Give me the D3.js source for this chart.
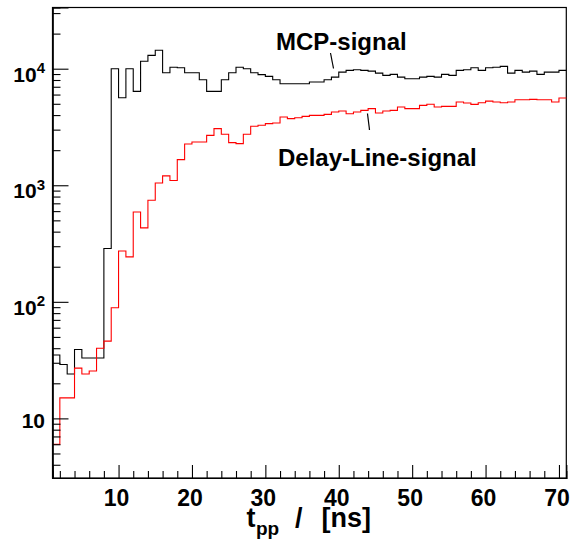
<!DOCTYPE html>
<html>
<head>
<meta charset="utf-8">
<script src="https://cdn.jsdelivr.net/npm/d3@7"></script>
<style>
  body { margin: 0; background: #fff; }
  svg { display: block; }
  text { font-family: "Liberation Sans", Arial, Helvetica, sans-serif; font-weight: bold; fill: #000; }
</style>
</head>
<body>
<svg id="chart" width="574" height="540"></svg>
<script>
// Histogram bins: width 1 ns, from 1 to 71 ns
const binLowEdges = d3.range(1, 71);
const binUpperEdge = 71;

// Counts per bin, MCP signal
const mcpCounts = [
  35, 29, 24, 39, 33, 33, 33, 287, 10000, 5640,
  10000, 6390, 11600, 13000, 14400, 9240, 10300, 10200, 9240, 9240,
  8040, 6390, 6390, 8040, 9240, 10300, 10000, 9240, 8890, 8590,
  8040, 7430, 7430, 7430, 7430, 7680, 7680, 8040, 8470, 9350,
  9670, 9800, 9670, 9540, 9170, 8760, 8940, 8470, 8210, 8210,
  8470, 8590, 8470, 8940, 8760, 9670, 9800, 10200, 9670, 10200,
  10300, 10460, 9170, 9670, 9350, 9540, 8940, 9350, 9350, 9670
];

// Counts per bin, delay-line signal
const delayLineCounts = [
  6, 15, 15, 27, 24, 25.5, 40, 46, 89, 273,
  243, 590, 431, 743, 1047, 1203, 1100, 1660, 2260, 2350,
  2350, 2680, 3060, 2740, 2320, 2275, 2740, 3210, 3270, 3380,
  3420, 3850, 3730, 3800, 3900, 3980, 3980, 4060, 4250, 4330,
  4110, 4250, 4390, 4540, 4170, 4330, 4390, 4690, 4540, 4540,
  4850, 4960, 4690, 4750, 4750, 5180, 5075, 4940, 5110, 5275,
  5180, 5110, 5180, 5420, 5420, 5455, 5420, 5420, 5180, 5600
];

const xMajorTicks = [10, 20, 30, 40, 50, 60, 70];
const xMinorTicks = d3.range(2, 71, 2).filter(v => v % 10 !== 0);
const yMajorTicks = [10, 100, 1000, 10000];
const yTickBase = ["10", "10", "10", "10"];
const yTickExponent = ["", "2", "3", "4"];
const yMinorTicks = [4, 5, 6, 7, 8, 9, 20, 30, 40, 50, 60, 70, 80, 90,
  200, 300, 400, 500, 600, 700, 800, 900, 2000, 3000, 4000, 5000, 6000, 7000, 8000, 9000,
  20000, 30000];

const seriesLabels = ["MCP-signal", "Delay-Line-signal"];
const seriesColors = ["#000000", "#ff0000"];

const svg = d3.select("#chart");
const frame = { left: 52.5, right: 566.3, top: 7.5, bottom: 478 };

const x = d3.scaleLinear().domain([1, 71]).range([frame.left, frame.right]);
const y = d3.scaleLog().domain([3.08, 33500]).range([frame.bottom, frame.top]);

// Frame
svg.append("rect")
  .attr("x", frame.left).attr("y", frame.top)
  .attr("width", frame.right - frame.left).attr("height", frame.bottom - frame.top)
  .attr("fill", "none").attr("stroke", "#000").attr("stroke-width", 1.2);

// Step outlines of the two histograms
const stepLine = d3.line()
  .x(d => x(d[0]))
  .y(d => y(d[1]))
  .curve(d3.curveStepAfter);

function stepPoints(counts) {
  const pts = binLowEdges.map((e, i) => [e, counts[i]]);
  pts.push([binUpperEdge, counts[counts.length - 1]]);
  return pts;
}

[mcpCounts, delayLineCounts].forEach((counts, i) => {
  svg.append("path")
    .attr("d", stepLine(stepPoints(counts)))
    .attr("fill", "none")
    .attr("stroke", seriesColors[i])
    .attr("stroke-width", 1.1);
});

// Axes: ticks point into the frame
const gx = svg.append("g").attr("transform", `translate(0,${frame.bottom})`);
gx.call(d3.axisBottom(x).tickValues(xMajorTicks).tickSize(-13).tickFormat(""));
gx.call(g => g.append("g").call(d3.axisBottom(x).tickValues(xMinorTicks).tickSize(-7).tickFormat("")));
gx.selectAll(".domain").attr("stroke", "#000").attr("stroke-width", 1.2);
gx.selectAll(".tick line").attr("stroke", "#000").attr("stroke-width", 1.1);

const gy = svg.append("g").attr("transform", `translate(${frame.left},0)`);
gy.call(d3.axisLeft(y).tickValues(yMajorTicks).tickSize(-16).tickFormat(""));
gy.call(g => g.append("g").call(d3.axisLeft(y).tickValues(yMinorTicks).tickSize(-8).tickFormat("")));
gy.selectAll(".domain").attr("stroke", "#000").attr("stroke-width", 1.2);
gy.selectAll(".tick line").attr("stroke", "#000").attr("stroke-width", 1.1);

// X tick labels
svg.append("g").selectAll("text")
  .data(xMajorTicks)
  .join("text")
  .attr("x", d => x(d) - 2)
  .attr("y", 506)
  .attr("text-anchor", "middle")
  .attr("font-size", 23)
  .text(d => d);

// Y tick labels with exponents
const yLab = svg.append("g").selectAll("text")
  .data(yMajorTicks)
  .join("text")
  .attr("x", 45)
  .attr("y", (d, i) => y(d) + (yTickExponent[i] ? 13 : 10))
  .attr("text-anchor", "end")
  .attr("font-size", 21);
yLab.append("tspan").text((d, i) => yTickBase[i]);
yLab.filter((d, i) => yTickExponent[i] !== "")
  .append("tspan")
  .attr("font-size", 15)
  .attr("dy", -8.5)
  .text((d, i) => yTickExponent[yMajorTicks.indexOf(d)]);

// X axis title: t_pp / [ns]
const title = svg.append("text").attr("y", 527).attr("font-size", 27);
title.append("tspan").attr("x", 246.5).text("t");
title.append("tspan").attr("x", 256).attr("y", 535).attr("font-size", 19).text("pp");
title.append("tspan").attr("x", 295).attr("y", 527).text("/");
title.append("tspan").attr("x", 321.5).attr("y", 527).text("[ns]");

// Series labels with pointer lines
const annotations = [
  { label: seriesLabels[0], tx: 276, ty: 50, line: [[330.5, 53], [333.5, 68.5]] },
  { label: seriesLabels[1], tx: 278, ty: 165.5, line: [[367.5, 113.5], [369.5, 130]] }
];
annotations.forEach(a => {
  svg.append("text").attr("x", a.tx).attr("y", a.ty).attr("font-size", 24).text(a.label);
  svg.append("line")
    .attr("x1", a.line[0][0]).attr("y1", a.line[0][1])
    .attr("x2", a.line[1][0]).attr("y2", a.line[1][1])
    .attr("stroke", "#000").attr("stroke-width", 1.2);
});
</script>
</body>
</html>
